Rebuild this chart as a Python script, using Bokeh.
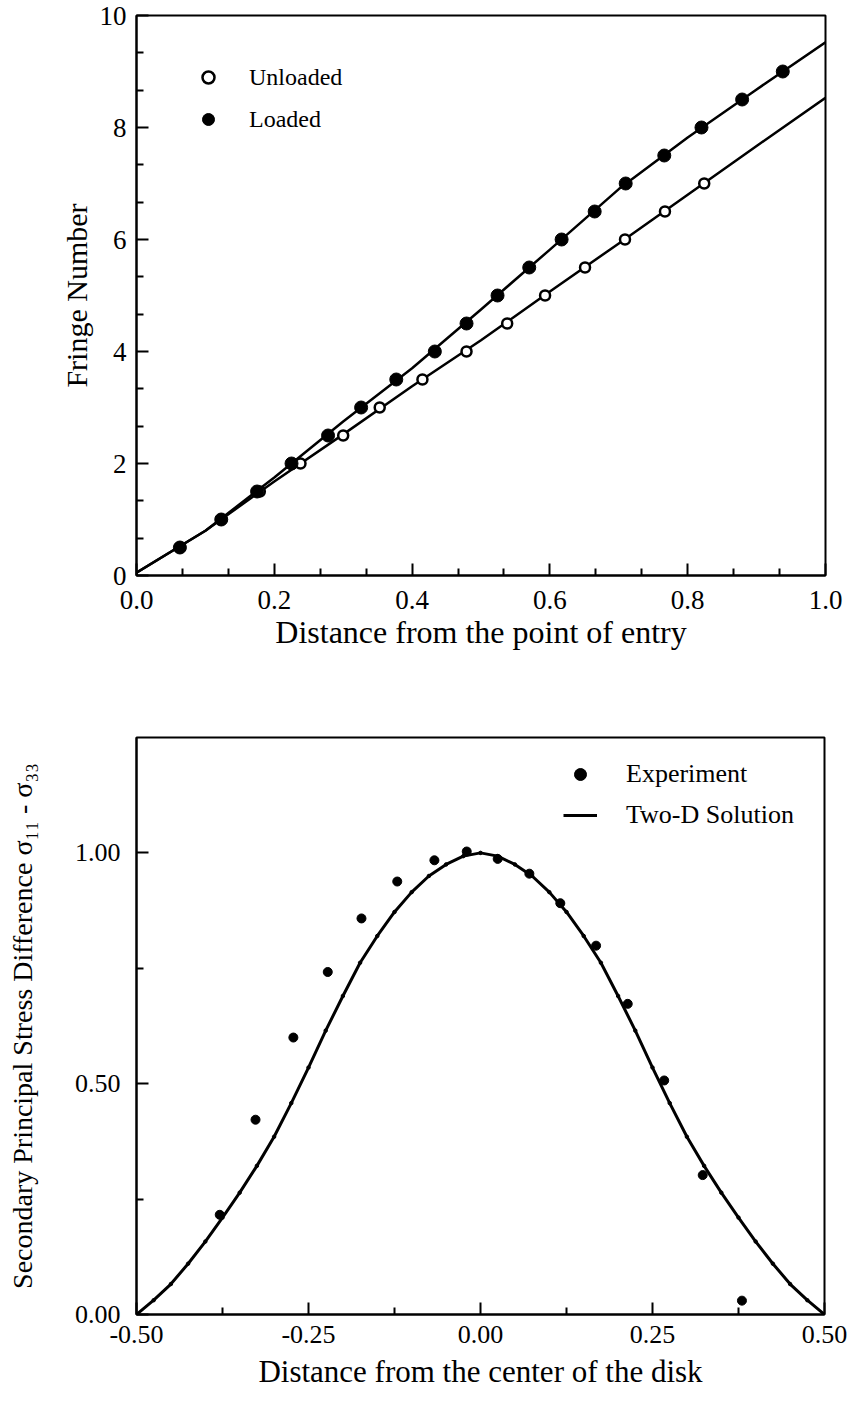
import numpy as np
from bokeh.plotting import figure
from bokeh.models import Range1d, FixedTicker, Legend, LegendItem, NumeralTickFormatter
from bokeh.layouts import column
from bokeh.embed import file_html
from bokeh.resources import INLINE

# ---------------- top chart data ----------------
unloaded_x = [0.063, 0.123, 0.179, 0.238, 0.300, 0.353, 0.415, 0.479, 0.538, 0.593, 0.651, 0.709, 0.767, 0.824]
unloaded_y = [0.5, 1.0, 1.5, 2.0, 2.5, 3.0, 3.5, 4.0, 4.5, 5.0, 5.5, 6.0, 6.5, 7.0]
loaded_x = [0.063, 0.123, 0.175, 0.225, 0.278, 0.326, 0.377, 0.433, 0.479, 0.524,
            0.570, 0.617, 0.665, 0.710, 0.766, 0.820, 0.879, 0.938]
loaded_y = [0.5, 1.0, 1.5, 2.0, 2.5, 3.0, 3.5, 4.0, 4.5, 5.0, 5.5, 6.0, 6.5, 7.0, 7.5, 8.0, 8.5, 9.0]
# fitted lines
line_x = [0.0, 0.1, 0.2, 0.3, 0.4, 0.5, 0.6, 0.7, 0.8, 0.9, 1.0]
loaded_line_y = [0.05, 0.80, 1.75, 2.75, 3.70, 4.75, 5.82, 6.90, 7.82, 8.68, 9.52]
unloaded_line_y = [0.05, 0.80, 1.68, 2.52, 3.38, 4.20, 5.07, 5.93, 6.80, 7.67, 8.53]

top_x_major = [0.0, 0.2, 0.4, 0.6, 0.8, 1.0]
top_y_major = [0, 2, 4, 6, 8, 10]

# ---------------- bottom chart data ----------------
exp_x = [-0.379, -0.327, -0.272, -0.222, -0.173, -0.121, -0.067, -0.020,
         0.025, 0.071, 0.116, 0.168, 0.214, 0.267, 0.323, 0.380]
exp_y = [0.216, 0.422, 0.600, 0.742, 0.858, 0.938, 0.984, 1.003,
         0.987, 0.955, 0.891, 0.799, 0.673, 0.507, 0.302, 0.030]
sol_x = [-0.500, -0.475, -0.450, -0.425, -0.400, -0.375, -0.350, -0.325, -0.300, -0.275,
         -0.250, -0.225, -0.200, -0.175, -0.150, -0.125, -0.100, -0.075, -0.050, -0.025,
         0.000, 0.025, 0.050, 0.075, 0.100, 0.125, 0.150, 0.175, 0.200, 0.225,
         0.250, 0.275, 0.300, 0.325, 0.350, 0.375, 0.400, 0.425, 0.450, 0.475, 0.500]
sol_y = [0.000, 0.031, 0.066, 0.110, 0.158, 0.210, 0.264, 0.322, 0.385, 0.458,
         0.535, 0.615, 0.690, 0.762, 0.820, 0.872, 0.915, 0.950, 0.975, 0.993,
         1.000, 0.993, 0.975, 0.950, 0.915, 0.872, 0.820, 0.762, 0.690, 0.615,
         0.535, 0.458, 0.385, 0.322, 0.264, 0.210, 0.158, 0.110, 0.066, 0.031, 0.000]

bot_x_major = [-0.5, -0.25, 0.0, 0.25, 0.5]
bot_x_minor = [-0.375, -0.125, 0.125, 0.375]
bot_y_major = [0.0, 0.5, 1.0]
bot_y_minor = [0.25, 0.75]

FONT = "Liberation Serif"


def style_axes(p, tick_size, title_size):
    p.outline_line_color = "black"
    p.outline_line_width = 2
    p.xgrid.visible = False
    p.ygrid.visible = False
    p.background_fill_color = "white"
    p.border_fill_color = "white"
    for ax in (p.xaxis[0], p.yaxis[0]):
        ax.axis_line_color = "black"
        ax.axis_line_width = 2
        ax.major_tick_in = 12
        ax.major_tick_out = 0
        ax.minor_tick_in = 7
        ax.minor_tick_out = 0
        ax.major_tick_line_color = "black"
        ax.minor_tick_line_color = "black"
        ax.major_tick_line_width = 2
        ax.minor_tick_line_width = 2
        ax.major_label_text_font = FONT
        ax.major_label_text_font_size = tick_size
        ax.major_label_text_color = "black"
        ax.axis_label_text_font = FONT
        ax.axis_label_text_font_size = title_size
        ax.axis_label_text_font_style = "normal"
        ax.axis_label_text_color = "black"


# ---------------- top figure ----------------
p1 = figure(frame_width=689, frame_height=560,
            min_border_left=136, min_border_right=19, min_border_top=15, min_border_bottom=117,
            x_range=Range1d(0, 1), y_range=Range1d(0, 10),
            output_backend="svg", toolbar_location=None)
style_axes(p1, "27px", "32px")
p1.xaxis.ticker = FixedTicker(ticks=top_x_major,
                              minor_ticks=[k / 15 for k in range(1, 15) if k % 3 != 0])
p1.yaxis.ticker = FixedTicker(ticks=top_y_major,
                              minor_ticks=[k * 2 / 3 for k in range(1, 15) if k % 3 != 0])
p1.xaxis.formatter = NumeralTickFormatter(format="0.0")
p1.xaxis.axis_label = "Distance from the point of entry"
p1.yaxis.axis_label = "Fringe Number"
p1.yaxis[0].axis_label_text_font_size = "30px"
p1.xaxis.major_label_standoff = 15
p1.xaxis.axis_label_standoff = 2
p1.yaxis.major_label_standoff = 10
p1.yaxis.axis_label_standoff = 4

p1.line(line_x, unloaded_line_y, line_color="black", line_width=2.5, line_join="round")
p1.line(line_x, loaded_line_y, line_color="black", line_width=2.5, line_join="round")
r_un = p1.scatter(unloaded_x, unloaded_y, marker="circle", size=10, fill_color="white",
                  line_color="black", line_width=2.5)
r_lo = p1.scatter(loaded_x, loaded_y, marker="circle", size=13, fill_color="black",
                  line_color="black", line_width=1)
leg1 = Legend(items=[LegendItem(label="Unloaded", renderers=[r_un]),
                     LegendItem(label="Loaded", renderers=[r_lo])],
              location=(57, 441), orientation="vertical",
              glyph_width=30, glyph_height=30, label_height=30, spacing=12,
              label_standoff=26, padding=0, margin=0,
              border_line_alpha=0, background_fill_alpha=0,
              label_text_font=FONT, label_text_font_size="24px", label_text_color="black")
p1.add_layout(leg1)

# ---------------- bottom figure ----------------
p2 = figure(frame_width=688, frame_height=577,
            min_border_left=129, min_border_right=27, min_border_top=45, min_border_bottom=89,
            x_range=Range1d(-0.5, 0.5), y_range=Range1d(0, 1.25),
            output_backend="svg", toolbar_location=None)
style_axes(p2, "26px", "31px")
p2.xaxis.ticker = FixedTicker(ticks=bot_x_major, minor_ticks=bot_x_minor)
p2.yaxis.ticker = FixedTicker(ticks=bot_y_major, minor_ticks=bot_y_minor)
p2.xaxis.formatter = NumeralTickFormatter(format="0.00")
p2.yaxis.formatter = NumeralTickFormatter(format="0.00")
p2.yaxis[0].axis_label_text_font_size = "28px"
p2.xaxis.axis_label = "Distance from the center of the disk"
p2.yaxis.axis_label = "Secondary Principal Stress Difference \u03c3\u2081\u2081 - \u03c3\u2083\u2083"
p2.xaxis.major_label_standoff = 11
p2.xaxis.axis_label_standoff = 8
p2.yaxis.major_label_standoff = 16
p2.yaxis.axis_label_standoff = 34

r_sol = p2.line(sol_x, sol_y, line_color="black", line_width=3, line_join="round")
p2.scatter(sol_x, sol_y, marker="circle", size=3.5, fill_color="black", line_color="black")
r_exp = p2.scatter(exp_x, exp_y, marker="circle", size=9, fill_color="black",
                   line_color="black")
leg2 = Legend(items=[LegendItem(label="Experiment", renderers=[r_exp]),
                     LegendItem(label="Two-D Solution", renderers=[r_sol])],
              location=(427, 484), orientation="vertical",
              glyph_width=34, glyph_height=30, label_height=30, spacing=11,
              label_standoff=29, padding=0, margin=0,
              border_line_alpha=0, background_fill_alpha=0,
              label_text_font=FONT, label_text_font_size="26px", label_text_color="black")
p2.add_layout(leg2)

layout = column(p1, p2, spacing=0)
open("out.html", "w").write(file_html(layout, INLINE))
